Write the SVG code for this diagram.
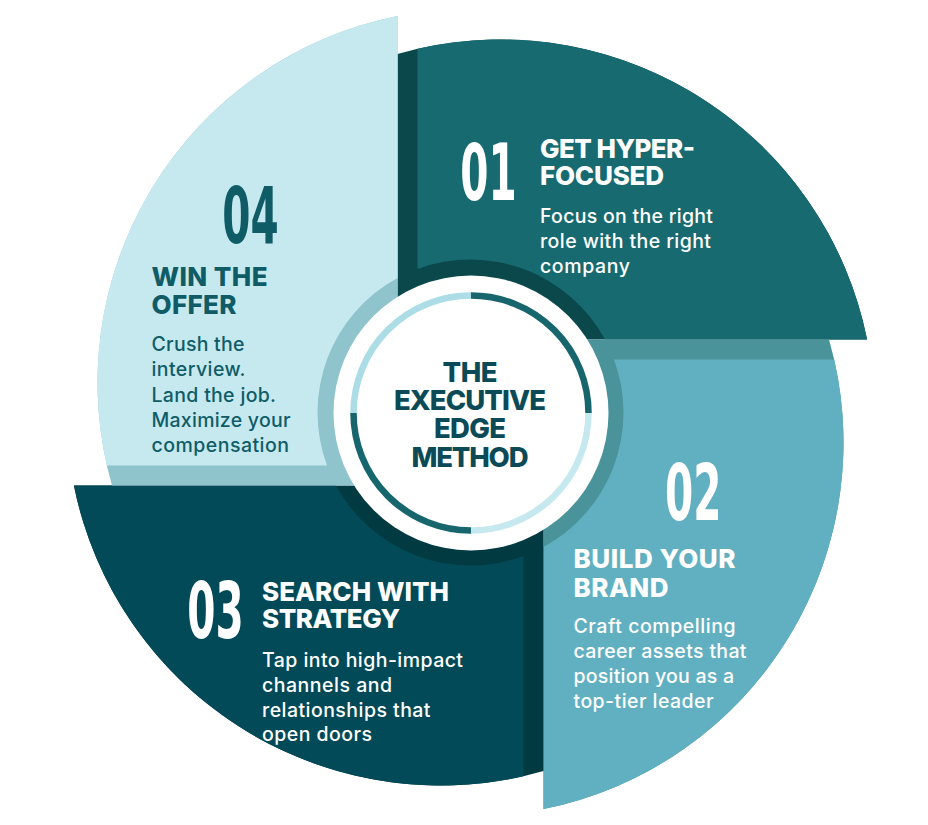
<svg xmlns="http://www.w3.org/2000/svg" width="928" height="825" viewBox="0 0 928 825">
<style>
.num{font-family:"DejaVu Sans",sans-serif;font-weight:700;font-size:78px}
.hd{font-family:Inter,"Liberation Sans",sans-serif;font-weight:800;font-size:26px}
.bd{font-family:Inter,"Liberation Sans",sans-serif;font-weight:500;font-size:19.5px}
.ct{font-family:Inter,"Liberation Sans",sans-serif;font-weight:800;font-size:27.5px;fill:#0b4a56;text-anchor:middle}
.w{fill:#ffffff}
.d{fill:#0f5c67}
.ring{fill:none;stroke-width:6.5}
</style>
<defs>
<path id="qs" d="M-73,-73 L-73,-358.5 A374,374 0 0 1 396.6,-73 Z"/>
<path id="qm" d="M-53,-143.5 L-53,-363.7 A374,374 0 0 1 396.6,-73 L134.5,-73 A153,153 0 0 0 -53,-143.5 Z"/>
</defs>
<rect width="928" height="825" fill="#ffffff"/>

<g id="step-01">
<g transform="translate(470.5 412.5)"><use href="#qs" fill="#0b484c"/><use href="#qm" fill="#176a70"/></g>
<text class="num w" transform="translate(460.3 200) scale(0.52 1)">01</text>
<text class="hd w" x="540" y="158.3" textLength="155" lengthAdjust="spacing">GET HYPER-</text>
<text class="hd w" x="540" y="185" textLength="124" lengthAdjust="spacing">FOCUSED</text>
<text class="bd w" x="540" y="223.3" textLength="173" lengthAdjust="spacing">Focus on the right</text>
<text class="bd w" x="540" y="248" textLength="171" lengthAdjust="spacing">role with the right</text>
<text class="bd w" x="540" y="272.5" textLength="90" lengthAdjust="spacing">company</text>
</g>

<g id="step-02">
<g transform="translate(470.5 412.5) rotate(90)"><use href="#qs" fill="#4a939b"/><use href="#qm" fill="#61b0c1"/></g>
<text class="num w" transform="translate(665 520) scale(0.52 1)">02</text>
<text class="hd w" x="573.5" y="568.3" textLength="162" lengthAdjust="spacing">BUILD YOUR</text>
<text class="hd w" x="573.5" y="596.7" textLength="95" lengthAdjust="spacing">BRAND</text>
<text class="bd w" x="573.5" y="633.3" textLength="162" lengthAdjust="spacing">Craft compelling</text>
<text class="bd w" x="573.5" y="658.3" textLength="173" lengthAdjust="spacing">career assets that</text>
<text class="bd w" x="573.5" y="683.3" textLength="160.5" lengthAdjust="spacing">position you as a</text>
<text class="bd w" x="573.5" y="708.3" textLength="140" lengthAdjust="spacing">top-tier leader</text>
</g>

<g id="step-03">
<g transform="translate(470.5 412.5) rotate(180)"><use href="#qs" fill="#023a42"/><use href="#qm" fill="#024a57"/></g>
<text class="num w" transform="translate(187.3 638.3) scale(0.52 1)">03</text>
<text class="hd w" x="262" y="600.7" textLength="187" lengthAdjust="spacing">SEARCH WITH</text>
<text class="hd w" x="262" y="628.3" textLength="138" lengthAdjust="spacing">STRATEGY</text>
<text class="bd w" x="262" y="667" textLength="201" lengthAdjust="spacing">Tap into high-impact</text>
<text class="bd w" x="262" y="691.7" textLength="130" lengthAdjust="spacing">channels and</text>
<text class="bd w" x="262" y="716.7" textLength="168.5" lengthAdjust="spacing">relationships that</text>
<text class="bd w" x="262" y="741" textLength="110" lengthAdjust="spacing">open doors</text>
</g>

<g id="step-04">
<g transform="translate(470.5 412.5) rotate(270)"><use href="#qs" fill="#8fc4cd"/><use href="#qm" fill="#c5e9ef"/></g>
<text class="num d" transform="translate(222.3 242.7) scale(0.52 1)">04</text>
<text class="hd d" x="151.5" y="286" textLength="116" lengthAdjust="spacing">WIN THE</text>
<text class="hd d" x="151.5" y="314" textLength="85" lengthAdjust="spacing">OFFER</text>
<text class="bd d" x="151.5" y="350.7" textLength="93" lengthAdjust="spacing">Crush the</text>
<text class="bd d" x="151.5" y="376" textLength="94" lengthAdjust="spacing">interview.</text>
<text class="bd d" x="151.5" y="401.7" textLength="124.5" lengthAdjust="spacing">Land the job.</text>
<text class="bd d" x="151.5" y="426.7" textLength="139" lengthAdjust="spacing">Maximize your</text>
<text class="bd d" x="151.5" y="451.7" textLength="137.5" lengthAdjust="spacing">compensation</text>
</g>

<g id="center">
<circle cx="471" cy="413" r="137.5" fill="#ffffff"/>
<path class="ring" stroke="#17666e" d="M471,295.5 A117.5,117.5 0 0 1 588.5,413"/>
<path class="ring" stroke="#c5e9ef" d="M588.5,413 A117.5,117.5 0 0 1 471,530.5"/>
<path class="ring" stroke="#17666e" d="M471,530.5 A117.5,117.5 0 0 1 353.5,413"/>
<path class="ring" stroke="#acdde6" d="M353.5,413 A117.5,117.5 0 0 1 471,295.5"/>
<text class="ct" x="470" y="381.7" textLength="55" lengthAdjust="spacing">THE</text>
<text class="ct" x="470" y="410" textLength="152" lengthAdjust="spacing">EXECUTIVE</text>
<text class="ct" x="470" y="438.3" textLength="72" lengthAdjust="spacing">EDGE</text>
<text class="ct" x="470" y="466.7" textLength="117" lengthAdjust="spacing">METHOD</text>
</g>
<g id="connectors"/>
</svg>
